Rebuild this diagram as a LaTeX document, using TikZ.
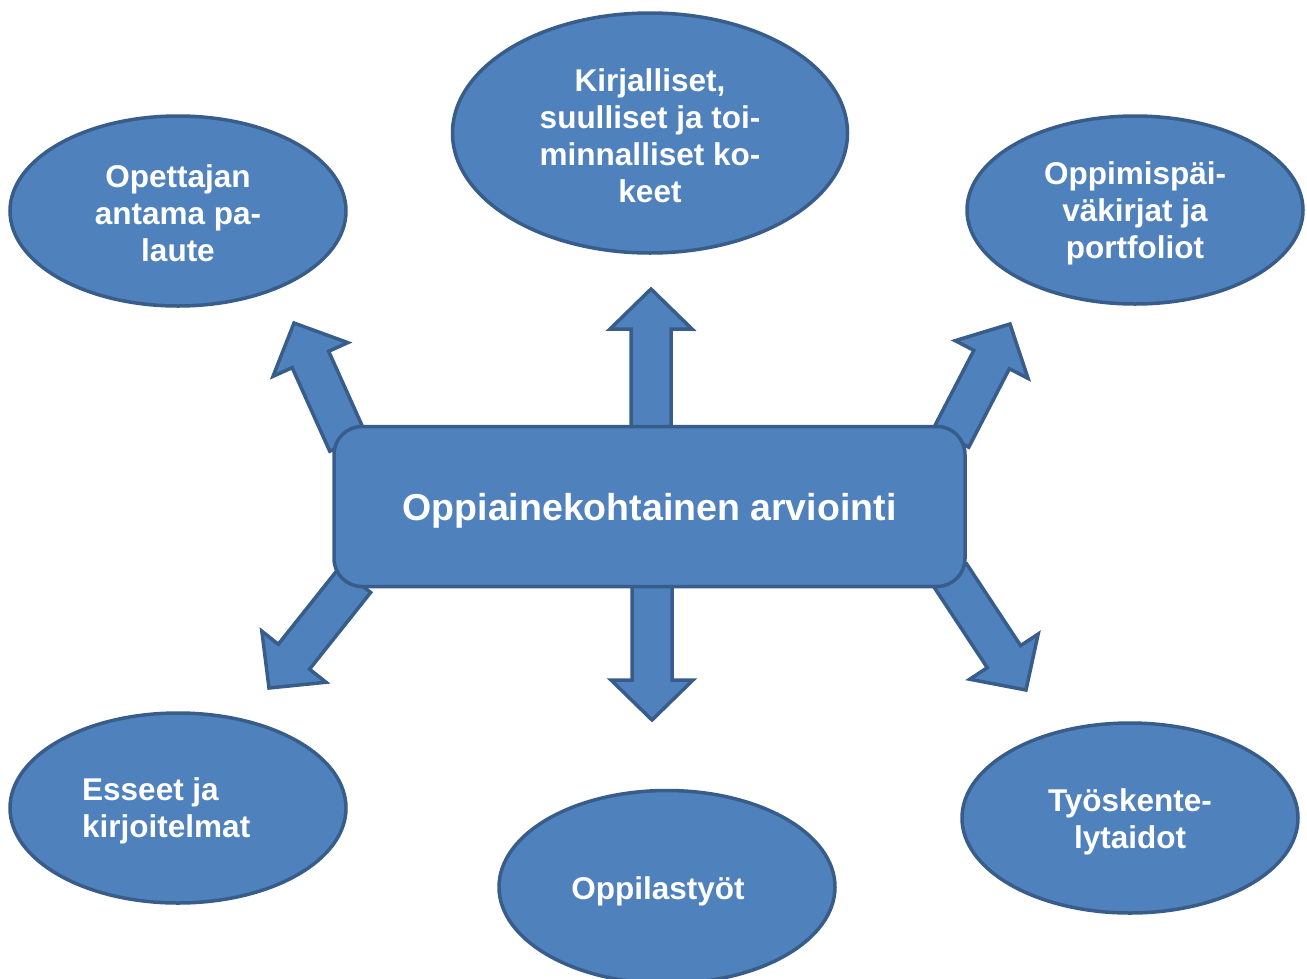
\documentclass[tikz,border=0pt]{standalone}
\usepackage{fontspec}
\setmainfont{Liberation Sans}
\usetikzlibrary{shapes.geometric,calc}
\definecolor{fillblue}{HTML}{4F81BD}
\definecolor{edgeblue}{HTML}{385D8A}
\tikzset{
  shapebase/.style={fill=fillblue, draw=edgeblue, line width=3.5pt},
  ell/.style={shapebase, ellipse, inner sep=0pt},
  txt/.style={text=white, inner sep=0pt, align=center,
    font=\bfseries\fontsize{31.5}{37}\selectfont},
  centerbox/.style={shapebase, rectangle, rounded corners=28pt, inner sep=0pt,
    minimum width=631pt, minimum height=160pt},
  centertxt/.style={text=white, inner sep=0pt,
    font=\bfseries\fontsize{37.5}{40}\selectfont},
  barrow/.style={shapebase, line join=miter},
}
\newcommand\blockarrow[2]{%
  \coordinate (hb) at ($(#2)!40pt!(#1)$);
  \filldraw[barrow] ($(#1)!20pt!90:(#2)$) -- ($(hb)!20pt!90:(#2)$)
    -- ($(hb)!41pt!90:(#2)$) -- (#2) -- ($(hb)!41pt!-90:(#2)$)
    -- ($(hb)!20pt!-90:(#2)$) -- ($(#1)!20pt!-90:(#2)$) -- cycle;
}
\begin{document}
\begin{tikzpicture}[x=1pt,y=-1pt]
\useasboundingbox (0,0) rectangle (1307,978);
% arrow end points
\coordinate (upS) at (651,432);  \coordinate (upE) at (651,289);
\coordinate (dnS) at (652,582);  \coordinate (dnE) at (652,720);
\coordinate (tlS) at (348,443);  \coordinate (tlE) at (294,323);
\coordinate (trS) at (951,438);  \coordinate (trE) at (1010,324);
\coordinate (blS) at (355,580);  \coordinate (blE) at (269,688);
\coordinate (brS) at (950,575);  \coordinate (brE) at (1026,690);
\blockarrow{upS}{upE}
\blockarrow{dnS}{dnE}
\blockarrow{tlS}{tlE}
\blockarrow{trS}{trE}
\blockarrow{blS}{blE}
\blockarrow{brS}{brE}
% centre
\node[centerbox] (c) at (649.5,506.5) {};
\node[centertxt] (ctext) at ($(c)+(0,4)$) {Oppiainekohtainen arviointi};
% ellipses
\node[ell, minimum width=336pt, minimum height=190pt] (tl) at (178,211) {};
\node[txt] (tltext) at ($(tl)+(0,2)$) {Opettajan\\antama pa-\\laute};
\node[ell, minimum width=395pt, minimum height=240pt] (tc) at (650,133) {};
\node[txt] (tctext) at ($(tc)+(0,3)$) {Kirjalliset,\\suulliset ja toi-\\minnalliset ko-\\keet};
\node[ell, minimum width=336pt, minimum height=188pt] (tr) at (1135,210) {};
\node[txt] (trtext) at ($(tr)+(0,3)$) {Oppimispäi-\\väkirjat ja\\portfoliot};
\node[ell, minimum width=336pt, minimum height=190pt] (bl) at (178,808) {};
\node[txt, anchor=west, align=left] (bltext) at (82,811) {Esseet ja\\kirjoitelmat};
\node[ell, minimum width=336pt, minimum height=193pt] (bc) at (667,887) {};
\node[txt] (bctext) at (658,891) {Oppilastyöt};
\node[ell, minimum width=336pt, minimum height=190pt] (br) at (1130,818) {};
\node[txt] (brtext) at ($(br)+(0,4)$) {Työskente-\\lytaidot};
\end{tikzpicture}
\end{document}
